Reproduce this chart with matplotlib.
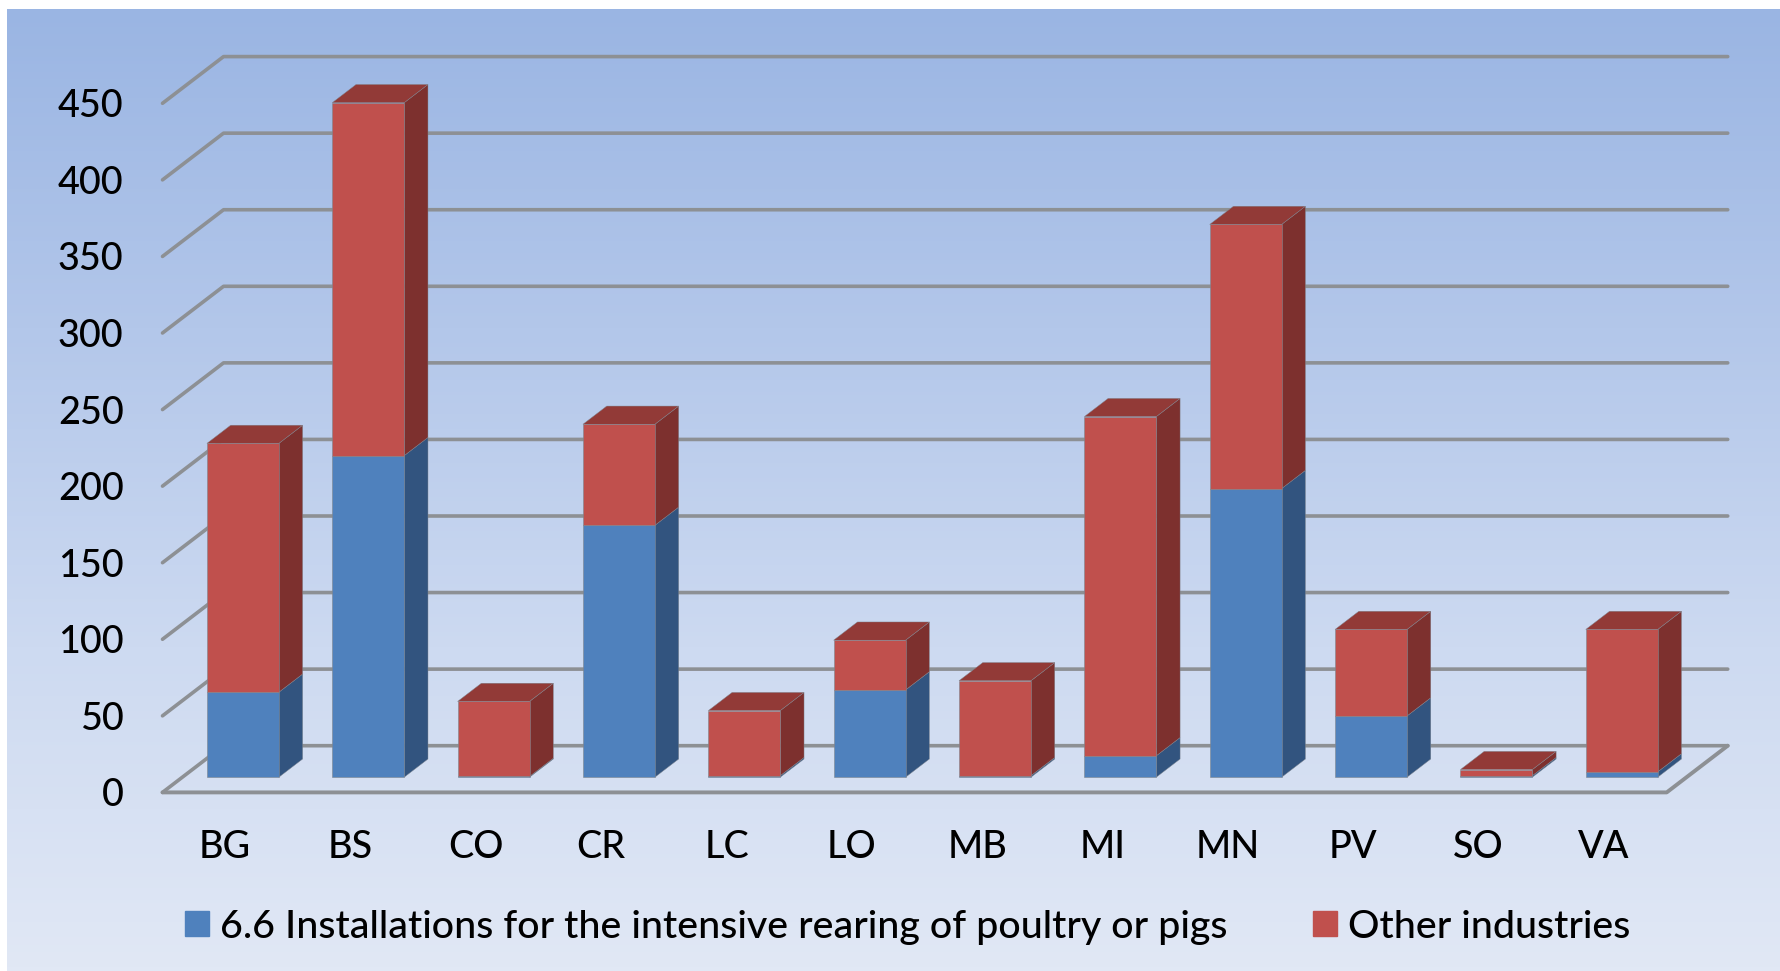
import numpy as np
import matplotlib
matplotlib.use('Agg')
import matplotlib.pyplot as plt
from matplotlib.colors import LinearSegmentedColormap
from matplotlib.patches import Patch

plt.rcParams['font.family'] = ['Lato', 'DejaVu Sans']
plt.rcParams['font.weight'] = 500

provinces = ['BG', 'BS', 'CO', 'CR', 'LC', 'LO', 'MB', 'MI', 'MN', 'PV', 'SO', 'VA']
poultry_pigs = [55.5, 210, 0.5, 164.5, 1, 57, 1, 14, 188.5, 40, 1, 3.5]
other_industries = [162.5, 230.5, 49, 66, 42.5, 32.5, 62, 221.5, 172.5, 56.5, 4, 93]
y_ticks = [0, 50, 100, 150, 200, 250, 300, 350, 400, 450]
legend_labels = ['6.6 Installations for the intensive rearing of poultry or pigs', 'Other industries']

W, H = 1781, 971
# pseudo-3D: how far the back wall is shifted from the front plane, in data units
DEPTH_X = 0.487
DEPTH_Y = 30.5
BAR_WIDTH = 0.574
BAR_SHIFT_X = 0.141
BAR_SHIFT_Y = 9.9
BAR_DEPTH = 0.39

GRID = '#8d9094'
BLUE = ('#4f81bd', '#32547f', '#3a5f8f')
RED = ('#c0504d', '#7d302e', '#923a37')
EDGE = '#7f868f'


def pixel_axes(fig, left, right, top, bottom):
    return fig.add_axes([left / W, 1 - bottom / H, (right - left) / W, (bottom - top) / H])


def draw_segment(ax, x, bottom, height, colors, draw_top):
    x0 = x - BAR_WIDTH / 2 + BAR_SHIFT_X
    x1 = x0 + BAR_WIDTH
    y0 = bottom + BAR_SHIFT_Y
    y1 = y0 + height
    ox = BAR_DEPTH * DEPTH_X
    oy = BAR_DEPTH * DEPTH_Y
    ax.bar(x0, height, BAR_WIDTH, bottom=y0, align='edge', color=colors[0],
           edgecolor=EDGE, linewidth=0.4, zorder=4)
    ax.fill([x1, x1 + ox, x1 + ox, x1], [y0, y0 + oy, y1 + oy, y1], color=colors[1],
            edgecolor=EDGE, linewidth=0.3, zorder=3)
    if draw_top:
        ax.fill([x0, x1, x1 + ox, x0 + ox], [y1, y1, y1 + oy, y1 + oy], color=colors[2],
                edgecolor=EDGE, linewidth=0.3, zorder=3)


def main():
    fig = plt.figure(figsize=(W / 100, H / 100), dpi=100, facecolor='white')

    bg = pixel_axes(fig, 7, W, 9, H)
    cmap = LinearSegmentedColormap.from_list('bg', ['#9ab5e3', '#b3c7ea', '#cddaf1', '#e1e8f5'])
    bg.imshow(np.linspace(0, 1, 256).reshape(-1, 1), aspect='auto', cmap=cmap)
    bg.axis('off')

    ax = pixel_axes(fig, 162.5, 1666.7, 103.3, 792.4)
    ax.patch.set_alpha(0)
    ax.set_xlim(-0.5, 11.5)
    ax.set_ylim(0, 450)
    for spine in ax.spines.values():
        spine.set_visible(False)

    for v in y_ticks:
        ax.plot([-0.5, -0.5 + DEPTH_X, 11.5 + DEPTH_X], [v, v + DEPTH_Y, v + DEPTH_Y],
                color=GRID, lw=2.6, clip_on=False, zorder=1, solid_capstyle='round')
    ax.plot([-0.5, 11.5, 11.5 + DEPTH_X], [0, 0, DEPTH_Y], color=GRID, lw=2.8,
            clip_on=False, zorder=1, solid_capstyle='round')

    for i in range(len(provinces)):
        draw_segment(ax, i, 0, poultry_pigs[i], BLUE, False)
        draw_segment(ax, i, poultry_pigs[i], other_industries[i], RED, True)
    for artist in ax.patches + ax.collections:
        artist.set_clip_on(False)

    ax.set_xticks(range(len(provinces)))
    ax.set_xticklabels(provinces)
    ax.set_yticks(y_ticks)
    ax.tick_params(axis='x', length=0, pad=27, labelsize=27.2, labelcolor='black')
    ax.tick_params(axis='y', length=0, pad=28, labelsize=27.2, labelcolor='black')

    handles = [Patch(color=BLUE[0]), Patch(color=RED[0])]
    fig.legend(handles, legend_labels, loc='center left', bbox_to_anchor=(185 / W, 1 - 927 / H),
               ncol=2, frameon=False, fontsize=28.4, handlelength=0.62, handleheight=0.62,
               handletextpad=0.27, columnspacing=2.16, borderaxespad=0, borderpad=0)

    fig.savefig('out.png', dpi=100)


if __name__ == '__main__':
    main()
